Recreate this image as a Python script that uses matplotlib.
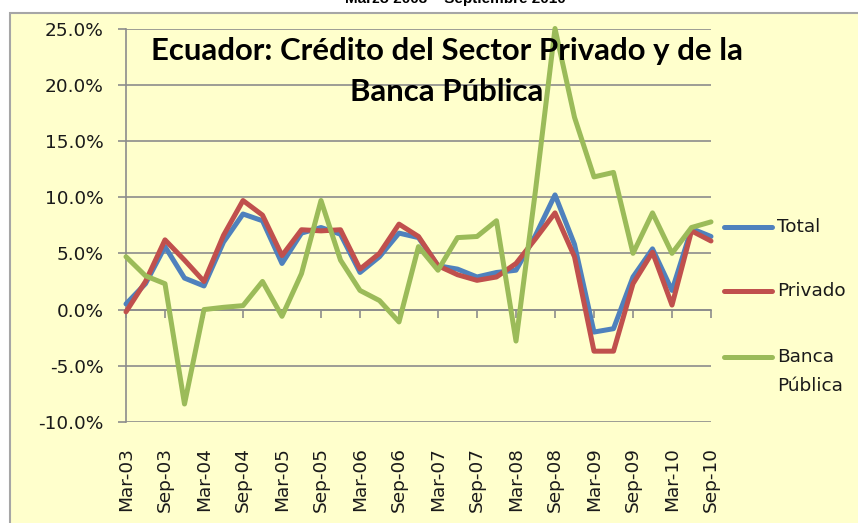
import matplotlib
matplotlib.use('Agg')
import matplotlib.pyplot as plt
from matplotlib.lines import Line2D
from matplotlib.patches import Rectangle
from matplotlib.ticker import FuncFormatter

plt.rcParams['font.family'] = ['DejaVu Sans']

periods = ['Mar-03', 'Jun-03', 'Sep-03', 'Dec-03', 'Mar-04', 'Jun-04', 'Sep-04', 'Dec-04',
           'Mar-05', 'Jun-05', 'Sep-05', 'Dec-05', 'Mar-06', 'Jun-06', 'Sep-06', 'Dec-06',
           'Mar-07', 'Jun-07', 'Sep-07', 'Dec-07', 'Mar-08', 'Jun-08', 'Sep-08', 'Dec-08',
           'Mar-09', 'Jun-09', 'Sep-09', 'Dec-09', 'Mar-10', 'Jun-10', 'Sep-10']

# variacion (%)
total = [0.5, 2.3, 5.6, 2.8, 2.1, 6.0, 8.5, 7.9, 4.1, 6.8, 7.3, 6.7, 3.3, 4.7, 6.8, 6.4,
         3.9, 3.6, 2.9, 3.3, 3.5, 6.6, 10.2, 5.8, -2.0, -1.7, 2.9, 5.4, 1.7, 7.2, 6.5]
privado = [-0.2, 2.5, 6.2, 4.4, 2.5, 6.6, 9.7, 8.4, 4.8, 7.1, 7.0, 7.1, 3.6, 5.0, 7.6, 6.5,
           3.9, 3.1, 2.6, 2.9, 4.1, 6.3, 8.6, 4.7, -3.7, -3.7, 2.3, 5.1, 0.4, 7.0, 6.1]
banca_publica = [4.7, 3.0, 2.3, -8.4, 0.0, 0.2, 0.35, 2.5, -0.6, 3.2, 9.7, 4.4, 1.7, 0.8, -1.1, 5.6,
                 3.5, 6.4, 6.5, 7.9, -2.8, 10.6, 25.0, 17.1, 11.8, 12.2, 5.0, 8.6, 5.0, 7.3, 7.8]

series_names = ['Total', 'Privado', 'Banca\nPública']
colors = ['#4F81BD', '#C0504D', '#9BBB59']
grid_gray = '#8C8C8C'
txt_color = '#1a1a1a'
fs = 13.3

W, H = 858, 523
fig = plt.figure(figsize=(W / 100, H / 100), dpi=100)
fig.patch.set_facecolor('white')

# fondo amarillo del area del grafico
fig.patches.append(Rectangle((10 / W, -0.05), 1.0, 1 - 13 / H + 0.05, transform=fig.transFigure,
                             facecolor='#FFFFCC', edgecolor='#A6A6A6', linewidth=1.5, zorder=-10))

# subtitulo (cortado arriba, como en el original)
fig.text(455 / W, 1 - 3 / H, 'Marzo 2003 \u2013 Septiembre 2010', ha='center', va='baseline',
         fontsize=11, fontweight='bold', family=['Liberation Sans', 'DejaVu Sans'])

ax = fig.add_axes([126 / W, 1 - 422 / H, 585 / W, (422 - 28.5) / H])
ax.set_facecolor('none')

x = list(range(len(periods)))
for vals, c in zip([total, privado, banca_publica], colors):
    ax.plot(x, vals, color=c, linewidth=3.6, solid_capstyle='round', solid_joinstyle='round',
            clip_on=False, zorder=3)

ax.set_xlim(0, len(periods) - 1)
ax.set_ylim(-10, 25)
ax.set_yticks(range(-10, 26, 5))
ax.yaxis.set_major_formatter(FuncFormatter(lambda v, p: f'{v:.1f}%'))
ax.grid(axis='y', color=grid_gray, linewidth=1.2)
ax.set_axisbelow(True)

for s in ['top', 'right', 'bottom']:
    ax.spines[s].set_visible(False)
ax.spines['left'].set_color(grid_gray)
ax.spines['left'].set_linewidth(1.2)

ax.tick_params(axis='y', direction='out', length=6, width=1.2, color=grid_gray,
               labelsize=fs, labelcolor=txt_color, pad=10)

ax.set_xticks(x[::2])
ax.set_xticklabels(periods[::2], rotation=90)
ax.tick_params(axis='x', length=0, labelsize=fs, labelcolor=txt_color, pad=18)

# eje de categorias cruzando en 0%
sec = ax.secondary_xaxis((0 - (-10)) / (25 - (-10)))
sec.set_xticks(x[::2])
sec.set_xticklabels([])
sec.tick_params(direction='out', length=6, width=1.2, color=grid_gray)
sec.spines['bottom'].set_color(grid_gray)
sec.spines['bottom'].set_linewidth(1.2)

# titulo dentro del grafico
title_font = dict(fontsize=22.4, fontweight='bold', family=['Lato', 'DejaVu Sans'],
                  ha='center', va='baseline', zorder=5)
fig.text(447 / W, 1 - 60 / H, 'Ecuador: Crédito del Sector Privado y de la', **title_font)
fig.text(447 / W, 1 - 101 / H, 'Banca Pública', **title_font)

# leyenda
leg_y = [227, 291, 357]
for name, c, yy in zip(series_names, colors, leg_y):
    fig.add_artist(Line2D([724 / W, 772 / W], [1 - yy / H, 1 - yy / H], transform=fig.transFigure,
                          color=c, linewidth=3.6, solid_capstyle='round'))
    for k, t in enumerate(name.split('\n')):
        fig.text(777 / W, 1 - (yy + 29 * k) / H, t, ha='left', va='center',
                 fontsize=fs, color=txt_color)

fig.savefig('out.png', dpi=100)
